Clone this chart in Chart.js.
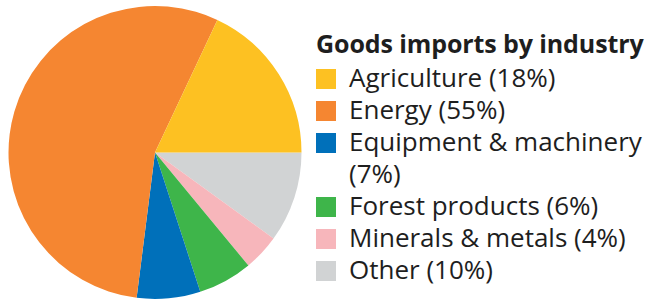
<!DOCTYPE html>
<html>
<head>
<meta charset="utf-8">
<script src="https://cdn.jsdelivr.net/npm/chart.js@4"></script>
<style>
  html, body { margin:0; padding:0; background:#fff; }
  #wrap { position:relative; width:648px; height:300px; overflow:hidden; }
  #pieBox { position:absolute; left:0; top:0; width:310px; height:300px; }
  #legend { position:absolute; left:316px; top:27px; color:#1e1e1e; font-family:'Open Sans', sans-serif; }
  #legend .title { font-weight:700; font-size:25px; line-height:32px; margin-bottom:2px; letter-spacing:-0.1px; }
  #legend .item { position:relative; padding-left:33px; font-size:26px; line-height:32px; width:300px; }
  #legend .sw { position:absolute; left:0; top:8px; width:20px; height:20px; }
</style>
</head>
<body>
<div id="wrap">
  <div id="pieBox"><canvas id="pieChart"></canvas></div>
  <div id="legend"></div>
</div>
<script>
const LEGEND_TITLE = 'Goods imports by industry';
const CATEGORIES = ['Agriculture','Energy','Equipment & machinery','Forest products','Minerals & metals','Other'];
const SHARES = [18, 55, 7, 6, 4, 10];
const COLORS = ['#FDC122','#F58631','#0070BA','#3EB54A','#F7B6BB','#D1D3D4'];

// legend (HTML so long labels can wrap)
const lg = document.getElementById('legend');
let html = `<div class="title">${LEGEND_TITLE}</div>`;
CATEGORIES.forEach((c, i) => {
  const label = c.replace('&', '&amp;');
  html += `<div class="item"><span class="sw" style="background:${COLORS[i]}"></span>${label} (${SHARES[i]}%)</div>`;
});
lg.innerHTML = html;

// slices go counterclockwise from 3 o'clock, so feed the data reversed and draw clockwise
const rev = a => a.slice().reverse();

new Chart(document.getElementById('pieChart'), {
  type: 'pie',
  data: {
    labels: rev(CATEGORIES),
    datasets: [{ data: rev(SHARES), backgroundColor: rev(COLORS), borderWidth: 0 }]
  },
  options: {
    responsive: true, maintainAspectRatio: false, animation: false,
    rotation: 90,
    layout: { padding: { top:6, bottom:1, left:8, right:8 } },
    plugins: { legend: { display:false }, tooltip: { enabled:false } }
  }
});
</script>
</body>
</html>
